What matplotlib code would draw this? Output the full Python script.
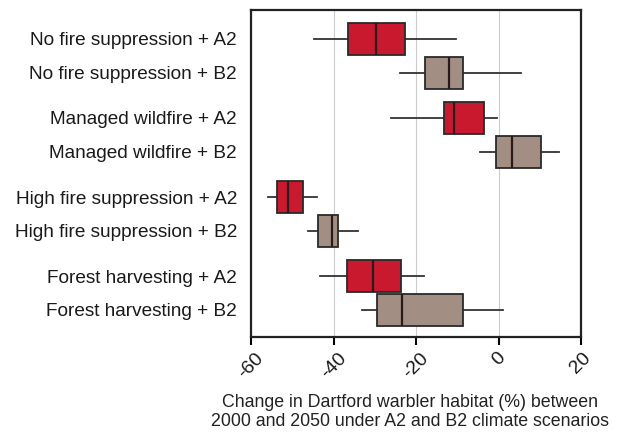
import matplotlib.pyplot as plt

plt.rcParams['font.family'] = ['Liberation Sans', 'DejaVu Sans']

labels = ["No fire suppression + A2", "No fire suppression + B2",
          "Managed wildfire + A2", "Managed wildfire + B2",
          "High fire suppression + A2", "High fire suppression + B2",
          "Forest harvesting + A2", "Forest harvesting + B2"]
# whisker low, q1, median, q3, whisker high
wlo = [-44.8, -23.8, -26.1, -4.4, -55.9, -46.3, -43.2, -33.0]
q1 = [-36.4, -17.9, -13.1, -0.5, -53.7, -43.8, -36.7, -29.4]
med = [-29.7, -12.0, -10.9, 3.2, -51.0, -40.3, -30.4, -23.5]
q3 = [-22.6, -8.5, -3.4, 10.2, -47.4, -38.8, -23.6, -8.6]
whi = [-10.4, 5.4, -0.4, 14.6, -44.0, -34.1, -18.1, 1.0]
pos = [0, 1, 2.33, 3.33, 4.67, 5.67, 7, 8]
colors = ["#c8192e", "#a38e84"] * 4

stats = []
for i in range(len(labels)):
    stats.append({"whislo": wlo[i], "q1": q1[i], "med": med[i],
                  "q3": q3[i], "whishi": whi[i], "fliers": []})

fig = plt.figure(figsize=(6.25, 4.38), dpi=100)
ax = fig.add_axes([0.4016, 0.2306, 0.528, 0.7464])

bp = ax.bxp(stats, positions=pos, vert=False, widths=0.94, patch_artist=True,
            showcaps=False,
            whiskerprops=dict(color="#333333", lw=1.3),
            medianprops=dict(color="#2a1a1a", lw=1.6),
            boxprops=dict(edgecolor="#2a2a2a", lw=1.3))
for patch, c in zip(bp["boxes"], colors):
    patch.set_facecolor(c)
for w in bp["whiskers"]:
    w.set_zorder(1)

ax.set_xlim(-60, 20)
ax.set_ylim(8.8, -0.85)
ax.set_xticks([-60, -40, -20, 0, 20])
ax.set_xticklabels(["-60", "-40", "-20", "0", "20"], rotation=45, ha="center")
ax.set_yticks(pos)
ax.set_yticklabels(labels)
ax.tick_params(axis="y", length=0, pad=10, labelsize=13.7, labelcolor="#1a1a1a")
ax.tick_params(axis="x", length=6, width=1.5, labelsize=14, pad=3, labelcolor="#1a1a1a")
ax.xaxis.grid(True, color="#cccccc", lw=0.8)
ax.set_axisbelow(True)
for s in ax.spines.values():
    s.set_linewidth(1.6)
    s.set_color("#222222")

ax.set_xlabel("Change in Dartford warbler habitat (%) between\n2000 and 2050 under A2 and B2 climate scenarios",
              fontsize=12.8, color="#222222", linespacing=1.15)
ax.xaxis.set_label_coords(0.482, -0.175)

fig.savefig("out.png")
